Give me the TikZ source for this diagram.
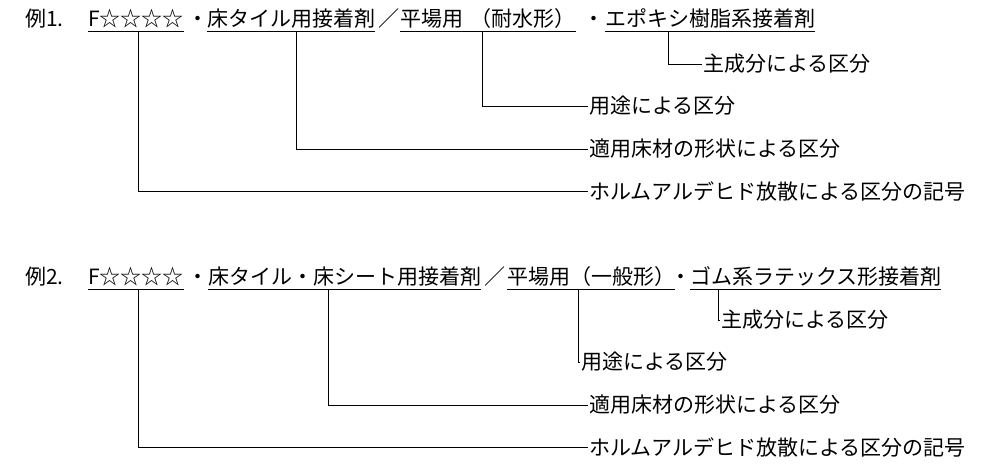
\documentclass[tikz,border=0pt]{standalone}
\usepackage{fontspec}
\setmainfont{Noto Sans CJK JP}
\begin{document}
\begin{tikzpicture}[x=1pt,y=-1pt,
  seg/.style={anchor=base west,inner sep=0pt,outer sep=0pt,font=\fontsize{21}{21}\selectfont},
  lab/.style={anchor=west,inner sep=1pt,font=\fontsize{21}{21}\selectfont},
  ul/.style={line width=0.9pt},
  con/.style={line width=0.9pt}]
\useasboundingbox (0,0) rectangle (1000,467);
% Example 1
\node[seg] (h1) at (25,26) {例1.};
\node[seg] (a1) at (88,26) {F☆☆☆☆};
\node[seg] (d1) at (187,26) {・};
\node[seg] (b1) at (207,26) {床タイル用接着剤};
\node[seg] (s1) at (378,26) {／};
\node[seg] (c1) at (400,26) {平場用\hspace{8pt}（耐水形）};
\node[seg] (d1b) at (583,26) {・};
\node[seg] (e1) at (605,26) {エポキシ樹脂系接着剤};
\foreach \n in {a1,b1,c1,e1}{\draw[ul] ([yshift=-5pt]\n.base west) -- ([yshift=-5pt]\n.base east);}
\node[lab] (l1a) at (702,64) {主成分による区分};
\node[lab] (l1b) at (588,106) {用途による区分};
\node[lab] (l1c) at (588,149) {適用床材の形状による区分};
\node[lab] (l1d) at (588,191) {ホルムアルデヒド放散による区分の記号};
\draw[con] ([xshift=63pt,yshift=-5pt]e1.base west) |- (l1a.west);
\draw[con] ([xshift=82pt,yshift=-5pt]c1.base west) |- (l1b.west);
\draw[con] ([xshift=89pt,yshift=-5pt]b1.base west) |- (l1c.west);
\draw[con] ([xshift=50pt,yshift=-5pt]a1.base west) |- (l1d.west);
% Example 2
\node[seg] (h2) at (25,284) {例2.};
\node[seg] (a2) at (88,284) {F☆☆☆☆};
\node[seg] (d2) at (187,284) {・};
\node[seg] (b2) at (208,284) {床タイル・床シート用接着剤};
\node[seg] (s2) at (484,284) {／};
\node[seg] (c2) at (507,284) {平場用（一般形）};
\node[seg] (d2b) at (670,284) {・};
\node[seg] (e2) at (690,284) {ゴム系ラテックス形接着剤};
\foreach \n in {a2,b2,c2,e2}{\draw[ul] ([yshift=-5pt]\n.base west) -- ([yshift=-5pt]\n.base east);}
\node[lab] (l2a) at (720,320) {主成分による区分};
\node[lab] (l2b) at (580,362) {用途による区分};
\node[lab] (l2c) at (588,405) {適用床材の形状による区分};
\node[lab] (l2d) at (588,447) {ホルムアルデヒド放散による区分の記号};
\draw[con] ([xshift=28pt,yshift=-5pt]e2.base west) |- (l2a.west);
\draw[con] ([xshift=71pt,yshift=-5pt]c2.base west) |- (l2b.west);
\draw[con] ([xshift=120pt,yshift=-5pt]b2.base west) |- (l2c.west);
\draw[con] ([xshift=50pt,yshift=-5pt]a2.base west) |- (l2d.west);
\end{tikzpicture}
\end{document}
